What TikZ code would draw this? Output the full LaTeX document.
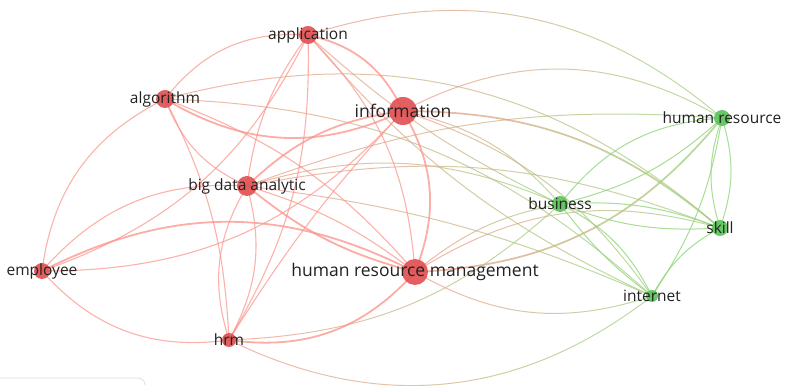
\documentclass[tikz,border=0pt]{standalone}
\usepackage{fontspec}
\setmainfont{Open Sans}
\usetikzlibrary{calc}
\definecolor{nodered}{RGB}{226,82,84}
\definecolor{nodegreen}{RGB}{92,196,92}
\definecolor{edgered}{RGB}{252,146,136}
\definecolor{edgegreen}{RGB}{146,214,122}
\definecolor{labelcol}{RGB}{34,34,34}
\tikzset{
  rr/.style={draw=edgered, line width=1.1pt, opacity=0.7},
  rrk/.style={draw=edgered, line width=1.8pt, opacity=0.75},
  rg/.style={line width=1pt, opacity=0.7},
  rgk/.style={line width=1.7pt, opacity=0.75},
  gg/.style={draw=edgegreen, line width=1pt, opacity=0.8},
  rdot/.style={circle, fill=nodered, inner sep=0pt, opacity=0.92},
  gdot/.style={circle, fill=nodegreen, inner sep=0pt, opacity=0.92},
  lbl/.style={text=labelcol, inner sep=0pt, font=\fontsize{15.5}{15.5}\selectfont},
  biglbl/.style={text=labelcol, inner sep=0pt, font=\fontsize{17.5}{17.5}\selectfont},
}
% cross-cluster edge: colour runs from red (at #2) to green (at #3)
\newcommand{\xedge}[4][rg]{%
  \foreach \ta/\tb/\pc in {-1/0.2/85, 0.2/0.4/68, 0.4/0.6/50, 0.6/0.8/32, 0.8/2/15} {%
    \begin{scope}
      \clip let \p1=($(#2)!\ta!(#3)$), \p2=($(#2)!\tb!(#3)$) in (\x1,-20) rectangle (\x2,420);
      \draw[#1, draw=edgered!\pc!edgegreen] (#2) to[#4] (#3);
    \end{scope}
  }%
}
\begin{document}
\begin{tikzpicture}[x=1pt,y=1pt]
\useasboundingbox (0,0) rectangle (786,385);
\fill[white] (0,0) rectangle (786,385);
% positions
\coordinate (app) at (308,350);
\coordinate (alg) at (165,286);
\coordinate (inf) at (403,274);
\coordinate (bda) at (247,199);
\coordinate (emp) at (42,114);
\coordinate (hrm) at (229,45);
\coordinate (hrmm) at (415,113);
\coordinate (bus) at (560,181);
\coordinate (skl) at (720,157);
\coordinate (int) at (652,89);
\coordinate (hr) at (722,267);
% panel corner
\draw[gray!25, line width=0.8pt] (0,7) -- (138,7) arc[start angle=90, end angle=0, radius=7];
% cross-cluster edges
\xedge{app}{hr}{bend left=29}
\xedge{inf}{hr}{bend left=29}
\xedge{alg}{skl}{bend left=28}
\xedge{alg}{int}{bend left=20}
\xedge{app}{bus}{bend right=8}
\xedge{app}{int}{bend right=12}
\xedge{inf}{bus}{bend left=18}
\xedge[rgk]{inf}{skl}{bend left=20}
\xedge{inf}{int}{bend left=18}
\xedge{bda}{bus}{bend left=20}
\xedge{bda}{skl}{bend left=16}
\xedge{bda}{hr}{bend left=12}
\xedge{bda}{int}{bend left=8}
\xedge{hrmm}{bus}{bend left=14}
\xedge{hrmm}{skl}{bend left=24}
\xedge{hrmm}{int}{bend right=24}
\xedge[rgk]{hrmm}{hr}{bend right=24}
\xedge{hrm}{bus}{bend right=20}
\xedge{hrm}{int}{bend right=32}
% green edges
\draw[gg] (bus) to[bend left=24] (hr);
\draw[gg] (bus) to[bend right=14] (hr);
\draw[gg] (bus) to[bend left=12] (skl);
\draw[gg] (bus) to[bend right=12] (skl);
\draw[gg] (bus) to[bend left=18] (int);
\draw[gg] (bus) to[bend right=8] (int);
\draw[gg] (skl) to[bend left=18] (hr);
\draw[gg] (skl) to[bend right=18] (hr);
\draw[gg] (int) to[bend left=16] (skl);
\draw[gg] (int) to[bend right=12] (hr);
% red edges
\draw[rr] (alg) to[bend left=28] (app);
\draw[rrk] (app) to[bend left=26] (inf);
\draw[rrk] (alg) to[bend right=28] (inf);
\draw[rr] (alg) to[bend left=14] (hrmm);
\draw[rr] (alg) to[bend right=22] (bda);
\draw[rr] (alg) to[bend left=12] (hrm);
\draw[rr] (emp) to[bend left=28] (alg);
\draw[rr] (emp) to[bend right=22] (app);
\draw[rr] (app) to[bend right=14] (bda);
\draw[rr] (app) to[bend left=16] (hrm);
\draw[rr] (app) to[bend left=20] (hrmm);
\draw[rrk] (inf) to[bend right=18] (bda);
\draw[rrk] (inf) to[bend left=26] (hrmm);
\draw[rr] (emp) to[bend right=24] (inf);
\draw[rr] (inf) to[bend right=5] (hrm);
\draw[rr] (bda) to[bend right=24] (hrm);
\draw[rr] (bda) to[bend left=22] (hrm);
\draw[rrk] (bda) to[bend right=12] (hrmm);
\draw[rr] (bda) to[bend left=10] (hrmm);
\draw[rr] (emp) to[bend left=26] (bda);
\draw[rr] (emp) to[bend right=28] (hrm);
\draw[rrk] (emp) to[bend left=27] (hrmm);
\draw[rrk] (hrm) to[bend right=28] (hrmm);
% nodes
\node[rdot, minimum size=18pt] (app-d) at (app) {};
\node[rdot, minimum size=18pt] (alg-d) at (alg) {};
\node[rdot, minimum size=28pt] (inf-d) at (inf) {};
\node[rdot, minimum size=20pt] (bda-d) at (bda) {};
\node[rdot, minimum size=16pt] (emp-d) at (emp) {};
\node[rdot, minimum size=14pt] (hrm-d) at (hrm) {};
\node[rdot, minimum size=26pt] (hrmm-d) at (hrmm) {};
\node[gdot, minimum size=16pt] (bus-d) at (bus) {};
\node[gdot, minimum size=16pt] (skl-d) at (skl) {};
\node[gdot, minimum size=12pt] (int-d) at (int) {};
\node[gdot, minimum size=16pt] (hr-d) at (hr) {};
% labels
\node[lbl] (app-l) at (app) {application};
\node[lbl] (alg-l) at (alg) {algorithm};
\node[biglbl] (inf-l) at (inf) {information};
\node[lbl] (bda-l) at (bda) {big data analytic};
\node[lbl] (emp-l) at (emp) {employee};
\node[lbl] (hrm-l) at (hrm) {hrm};
\node[biglbl] (hrmm-l) at (hrmm) {human resource management};
\node[lbl] (bus-l) at (bus) {business};
\node[lbl] (skl-l) at (skl) {skill};
\node[lbl] (int-l) at (int) {internet};
\node[lbl] (hr-l) at (hr) {human resource};
\end{tikzpicture}
\end{document}
